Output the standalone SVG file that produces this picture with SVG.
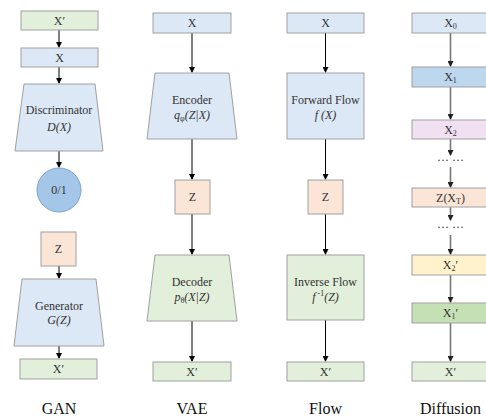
<svg xmlns="http://www.w3.org/2000/svg" width="486" height="418" viewBox="0 0 486 418" font-family="'Liberation Serif', 'Times New Roman', serif">
<defs>
<marker id="ah" markerWidth="6" markerHeight="6" refX="5" refY="3" orient="auto" markerUnits="userSpaceOnUse"><path d="M0,0 L6,3 L0,6 z" fill="#000"/></marker>
<marker id="ahg" markerWidth="6" markerHeight="6" refX="5" refY="3" orient="auto" markerUnits="userSpaceOnUse"><path d="M0,0 L6,3 L0,6 z" fill="#222"/></marker>
</defs>
<style>
text{font-family:'Liberation Serif',serif;fill:#333;text-anchor:middle;font-size:12px}
.lbl{font-size:16px;fill:#111}
.i{font-style:italic}
.s{stroke:#a0a0a0;stroke-width:1}
.green{fill:#e2efda}
.blue{fill:#dce8f5}
.peach{fill:#fbe5d6}
.dblue{fill:#bdd7ee}
.pink{fill:#f0e0f2}
.yellow{fill:#fff2cc}
.dgreen{fill:#c5e0b4}
.a{stroke:#000;stroke-width:1;fill:none;marker-end:url(#ah)}
.ag{stroke:#777;stroke-width:1.6;fill:none;marker-end:url(#ahg)}
</style>
<g id="connectors">
<line class="a" x1="59" y1="30" x2="59" y2="47"/>
<line class="a" x1="59" y1="67" x2="59" y2="83"/>
<line class="a" x1="59" y1="151" x2="59" y2="167"/>
<line class="a" x1="59" y1="266" x2="59" y2="278"/>
<line class="a" x1="59" y1="346" x2="59" y2="358"/>
<line class="a" x1="192" y1="33" x2="192" y2="72"/>
<line class="a" x1="192" y1="139" x2="192" y2="179"/>
<line class="a" x1="192" y1="214" x2="192" y2="254"/>
<line class="a" x1="192" y1="321" x2="192" y2="361"/>
<line class="a" x1="325.5" y1="33" x2="325.5" y2="72"/>
<line class="a" x1="325.5" y1="139" x2="325.5" y2="179"/>
<line class="a" x1="325.5" y1="214" x2="325.5" y2="254"/>
<line class="a" x1="325.5" y1="320" x2="325.5" y2="361"/>
<line class="ag" x1="450.5" y1="33" x2="450.5" y2="66"/>
<line class="ag" x1="450.5" y1="87" x2="450.5" y2="119"/>
<line class="ag" x1="450.5" y1="139" x2="450.5" y2="155"/>
<line class="ag" x1="450.5" y1="167" x2="450.5" y2="187"/>
<line class="ag" x1="450.5" y1="207" x2="450.5" y2="220"/>
<line class="ag" x1="450.5" y1="235" x2="450.5" y2="254"/>
<line class="ag" x1="450.5" y1="275" x2="450.5" y2="302"/>
<line class="ag" x1="450.5" y1="323" x2="450.5" y2="361"/>
</g>
<g id="gan-xp"><rect class="s green" x="21" y="11" width="77" height="19"/><text x="59.5" y="25">X′</text></g>
<g id="gan-x"><rect class="s blue" x="21" y="48" width="77" height="19"/><text x="59.5" y="62">X</text></g>
<g id="gan-disc"><polygon class="s blue" points="24,84 95,84 103,151 15,151"/><text x="59" y="114">Discriminator</text><text class="i" x="59" y="131">D(X)</text></g>
<g id="gan-out"><circle cx="59" cy="190" r="22" fill="#a4c6e8" stroke="#7ba3cc"/><text x="59" y="194">0/1</text></g>
<g id="gan-z"><rect class="s peach" x="41" y="232" width="35" height="34"/><text x="58.5" y="253">Z</text></g>
<g id="gan-gen"><polygon class="s blue" points="22,279 96,279 104,346 14,346"/><text x="59" y="310">Generator</text><text class="i" x="59" y="324">G(Z)</text></g>
<g id="gan-xp2"><rect class="s green" x="20" y="359" width="77" height="20"/><text x="58.5" y="373">X′</text></g>
<text class="lbl" x="59" y="414">GAN</text>

<g id="vae-x"><rect class="s blue" x="153" y="13" width="78" height="20"/><text x="192" y="27">X</text></g>
<g id="vae-enc"><polygon class="s blue" points="155,73 229,73 237,139 147,139"/><text x="192" y="104">Encoder</text><text x="192" y="119"><tspan class="i">q</tspan><tspan font-size="8" dy="2">φ</tspan><tspan dy="-2" class="i">(Z|X)</tspan></text></g>
<g id="vae-z"><rect class="s peach" x="175" y="180" width="35" height="34"/><text x="192.5" y="201">Z</text></g>
<g id="vae-dec"><polygon class="s green" points="155,255 229,255 237,321 147,321"/><text x="192" y="286">Decoder</text><text x="192" y="301"><tspan class="i">p</tspan><tspan font-size="8" dy="2">θ</tspan><tspan dy="-2" class="i">(X|Z)</tspan></text></g>
<g id="vae-xp"><rect class="s green" x="153" y="362" width="78" height="19"/><text x="192" y="376">X′</text></g>
<text class="lbl" x="192" y="414">VAE</text>

<g id="flow-x"><rect class="s blue" x="287" y="13" width="77" height="20"/><text x="325.5" y="27">X</text></g>
<g id="flow-fwd"><rect class="s blue" x="287" y="73" width="77" height="66"/><text x="325.5" y="104">Forward Flow</text><text class="i" x="325.5" y="119">f (X)</text></g>
<g id="flow-z"><rect class="s peach" x="308" y="180" width="35" height="34"/><text x="325.5" y="201">Z</text></g>
<g id="flow-inv"><rect class="s green" x="287" y="255" width="77" height="65"/><text x="325.5" y="286">Inverse Flow</text><text x="325.5" y="301"><tspan class="i">f</tspan><tspan font-size="8" dy="-5"> -1</tspan><tspan class="i" dy="5">(Z)</tspan></text></g>
<g id="flow-xp"><rect class="s green" x="287" y="362" width="77" height="19"/><text x="325.5" y="376">X′</text></g>
<text class="lbl" x="325.5" y="414">Flow</text>

<g id="dif-x0"><rect class="s blue" x="412" y="13" width="77" height="20"/><text x="450.5" y="27">X<tspan font-size="8" dy="2">0</tspan></text></g>
<g id="dif-x1"><rect class="s dblue" x="412" y="67" width="77" height="20"/><text x="450.5" y="81">X<tspan font-size="8" dy="2">1</tspan></text></g>
<g id="dif-x2"><rect class="s pink" x="412" y="120" width="77" height="19"/><text x="450.5" y="134">X<tspan font-size="8" dy="2">2</tspan></text></g>
<text x="450.5" y="164" font-size="10">··· ···</text>
<g id="dif-zt"><rect class="s peach" x="412" y="188" width="77" height="19"/><text x="450.5" y="202">Z(X<tspan font-size="8" dy="2">T</tspan><tspan dy="-2">)</tspan></text></g>
<text x="450.5" y="231" font-size="10">··· ···</text>
<g id="dif-x2p"><rect class="s yellow" x="412" y="255" width="77" height="20"/><text x="450.5" y="269">X<tspan font-size="8" dy="2">2</tspan><tspan dy="-2">′</tspan></text></g>
<g id="dif-x1p"><rect class="s dgreen" x="412" y="303" width="77" height="20"/><text x="450.5" y="317">X<tspan font-size="8" dy="2">1</tspan><tspan dy="-2">′</tspan></text></g>
<g id="dif-xp"><rect class="s green" x="412" y="362" width="77" height="19"/><text x="450.5" y="376">X′</text></g>
<text class="lbl" x="450.5" y="414">Diffusion</text>
</svg>
